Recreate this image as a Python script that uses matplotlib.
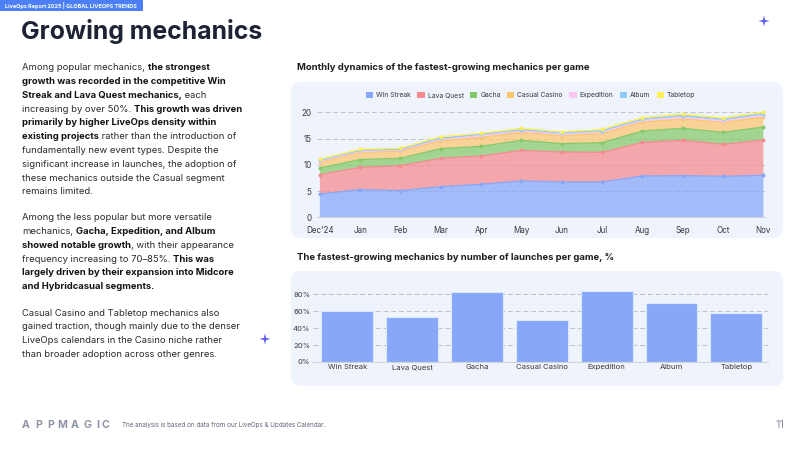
import matplotlib
matplotlib.use("Agg")
import matplotlib.pyplot as plt
from matplotlib.patches import FancyBboxPatch, Rectangle, Polygon
import numpy as np

# ---------------- data ----------------
months = ["Dec'24", "Jan", "Feb", "Mar", "Apr", "May", "Jun", "Jul", "Aug", "Sep", "Oct", "Nov"]
series_names = ["Win Streak", "Lava Quest", "Gacha", "Casual Casino", "Expedition", "Album", "Tabletop"]
win_streak = [4.44, 5.27, 5.08, 5.84, 6.29, 6.92, 6.73, 6.73, 7.87, 7.94, 7.81, 8.00]
lava_quest = [3.69, 4.25, 4.76, 5.40, 5.39, 5.84, 5.71, 5.65, 6.42, 6.73, 6.09, 6.73]
gacha = [1.27, 1.48, 1.40, 1.84, 1.84, 1.91, 1.59, 1.84, 2.15, 2.28, 2.29, 2.47]
casual_casino = [1.10, 1.38, 1.36, 1.52, 1.72, 1.52, 1.53, 1.78, 1.72, 1.78, 1.91, 1.90]
expedition = [0.20, 0.22, 0.20, 0.30, 0.36, 0.31, 0.31, 0.30, 0.32, 0.37, 0.30, 0.33]
album = [0.16, 0.16, 0.15, 0.20, 0.20, 0.20, 0.19, 0.20, 0.25, 0.27, 0.27, 0.32]
tabletop = [0.19, 0.19, 0.19, 0.27, 0.20, 0.25, 0.19, 0.26, 0.25, 0.31, 0.25, 0.31]

bar_categories = ["Win Streak", "Lava Quest", "Gacha", "Casual Casino", "Expedition", "Album", "Tabletop"]
bar_values = [60, 53, 83, 50, 84, 70, 58]
bar_ticks = [0, 20, 40, 60, 80]
bar_tick_labels = ["0%", "20%", "40%", "60%", "80%"]
area_ticks = [0, 5, 10, 15, 20]

line_colors = ["#86a7f8", "#f58a8f", "#86c96a", "#fcc66f", "#fbc8f4", "#8ecbfb", "#fdee5a"]

FONT = "Inter"
plt.rcParams['font.family'] = [FONT, 'DejaVu Sans']

W, H = 800, 450
fig = plt.figure(figsize=(8, 4.5), dpi=100)
fig.patch.set_facecolor("white")

bg = fig.add_axes([0, 0, 1, 1])
bg.set_xlim(0, W)
bg.set_ylim(H, 0)
bg.axis("off")
bg.set_zorder(0)

# banner
bg.add_patch(Rectangle((0, 0), 143, 11, color="#4c7ff6", lw=0))
bg.text(5, 5.6, "LiveOps Report 2025 | GLOBAL LIVEOPS TRENDS", color="white", fontsize=3.95,
        fontweight="bold", va="center", ha="left")

# title
bg.text(21, 31, "Growing mechanics", fontsize=17.9, fontweight="bold", color="#1e2235",
        va="center", ha="left")

# panels
panel_c = "#eff4fc"
bg.add_patch(FancyBboxPatch((291, 82), 492, 156, boxstyle="round,pad=0,rounding_size=10",
                            fc=panel_c, ec="none"))
bg.add_patch(FancyBboxPatch((291, 271), 492, 115, boxstyle="round,pad=0,rounding_size=10",
                            fc=panel_c, ec="none"))

bg.text(297, 68, "Monthly dynamics of the fastest-growing mechanics per game", fontsize=6.85,
        fontweight="bold", color="#1e1e1e", va="center", ha="left")
bg.text(297, 257, "The fastest-growing mechanics by number of launches per game, %", fontsize=6.8,
        fontweight="bold", color="#1e1e1e", va="center", ha="left")

# stars
def star(cx, cy, r, color):
    pts = []
    ri = r * 0.28
    for k in range(8):
        ang = np.pi / 2 + k * np.pi / 4
        rr = r if k % 2 == 0 else ri
        pts.append((cx + rr * np.cos(ang), cy - rr * np.sin(ang)))
    bg.add_patch(Polygon(pts, closed=True, fc=color, ec="none"))

star(764, 21, 5.5, "#5b5df2")
star(265, 339, 5.5, "#5b5df2")

# ---------------- body text with mixed weight ----------------
renderer = fig.canvas.get_renderer()
BODY_FS = 6.8
body_color = "#2b2b2b"
bold_color = "#141414"

def text_width(s, weight):
    t = bg.text(0, 0, s, fontsize=BODY_FS, fontweight=weight)
    w = t.get_window_extent(renderer).width
    t.remove()
    return w

space_w = {wt: text_width("x x", wt) - text_width("xx", wt) for wt in ("normal", "bold")}

def rich_line(x, y, runs):
    for s, b in runs:
        wt = "bold" if b else "normal"
        core = s.rstrip(" ")
        trailing = len(s) - len(core)
        t = bg.text(x, y, core, fontsize=BODY_FS, fontweight=wt,
                    color=bold_color if b else body_color, va="center", ha="left")
        x += t.get_window_extent(renderer).width + trailing * space_w[wt]

N, B = False, True
para1 = [
    [("Among popular mechanics, ", N), ("the strongest", B)],
    [("growth was recorded in the competitive Win", B)],
    [("Streak and Lava Quest mechanics,", B), (" each", N)],
    [("increasing by over 50%. ", N), ("This growth was driven", B)],
    [("primarily by higher LiveOps density within", B)],
    [("existing projects", B), (" rather than the introduction of", N)],
    [("fundamentally new event types. Despite the", N)],
    [("significant increase in launches, the adoption of", N)],
    [("these mechanics outside the Casual segment", N)],
    [("remains limited.", N)],
]
para2 = [
    [("Among the less popular but more versatile", N)],
    [("mechanics, ", N), ("Gacha, Expedition, and Album", B)],
    [("showed notable growth", B), (", with their appearance", N)],
    [("frequency increasing to 70\u201385%. ", N), ("This was", B)],
    [("largely driven by their expansion into Midcore", B)],
    [("and Hybridcasual segments.", B)],
]
para3 = [
    [("Casual Casino and Tabletop mechanics also", N)],
    [("gained traction, though mainly due to the denser", N)],
    [("LiveOps calendars in the Casino niche rather", N)],
    [("than broader adoption across other genres.", N)],
]
LS = 13.8
for para, y0 in ((para1, 67.7), (para2, 217.7), (para3, 313.0)):
    for i, runs in enumerate(para):
        rich_line(22, y0 + i * LS, runs)

# footer
logo = "APPMAGIC"
logo_x = [21.7, 35.7, 46.9, 57.7, 70.4, 83.0, 95.9, 102.0]
for ch, lx in zip(logo, logo_x):
    bg.text(lx, 424.5, ch, fontsize=7.6, fontweight="bold", color="#8d95a5", va="center", ha="left")
bg.text(121.5, 424.5, "The analysis is based on data from our LiveOps & Updates Calendar.",
        fontsize=4.5, color="#5e6678", va="center", ha="left")
bg.text(780, 425, "11", fontsize=8, color="#8d95a5", va="center", ha="center")

# ---------------- area chart ----------------
def fig_rect(x0, x1, ytop, ybot):
    return [x0 / W, 1 - ybot / H, (x1 - x0) / W, (ybot - ytop) / H]

ax1 = fig.add_axes(fig_rect(317, 765, 217.3 - 21 * 5.25, 217.3))
ax1.set_zorder(2)
ax1.patch.set_alpha(0)
x = np.arange(len(months))
stack = [win_streak, lava_quest, gacha, casual_casino, expedition, album, tabletop]
ax1.stackplot(x, *stack, colors=line_colors, alpha=0.72, lw=0)
cum = np.cumsum(np.array(stack), axis=0)
for i in range(len(stack)):
    ax1.plot(x, cum[i], color=line_colors[i], lw=0.9, marker="o", ms=1.8, clip_on=False, zorder=3)
ax1.set_xlim(-0.07, 11.04)
ax1.set_ylim(0, 21)
ax1.set_xticks(x)
ax1.set_xticklabels(months)
ax1.set_yticks(area_ticks)
ax1.tick_params(axis="both", length=0, labelsize=5.8, labelcolor="#3a3a3a")
ax1.tick_params(axis="x", pad=6)
ax1.tick_params(axis="y", pad=4)
for s in ("top", "right", "left"):
    ax1.spines[s].set_visible(False)
ax1.spines["bottom"].set_color("#cfd3da")
ax1.spines["bottom"].set_linewidth(0.8)
for v in area_ticks[1:]:
    ax1.axhline(v, color="#bfc3c9", lw=0.7, ls=(0, (5, 3)), zorder=0)

handles = [Rectangle((0, 0), 1, 1, fc=c, ec="none") for c in line_colors]
fig.legend(handles, series_names, loc="center", bbox_to_anchor=(530.5 / W, 1 - 95 / H), ncol=7,
           frameon=False, fontsize=4.9, handlelength=1.1, handleheight=1.1, handletextpad=0.45,
           columnspacing=0.9, labelcolor="#3a3a3a")

# ---------------- bar chart ----------------
unit = 16.9 / 20
ax2 = fig.add_axes(fig_rect(313, 768, 362 - 90 * unit, 362))
ax2.set_zorder(2)
ax2.patch.set_alpha(0)
bx = np.arange(len(bar_categories))
ax2.bar(bx, bar_values, width=0.8, color="#87a8f8", edgecolor="#dce6fd", lw=0.8, zorder=2)
ax2.set_xlim(-0.53, 6.49)
ax2.set_ylim(0, 90)
ax2.set_yticks(bar_ticks)
ax2.set_yticklabels(bar_tick_labels)
ax2.set_xticks(bx)
ax2.set_xticklabels(bar_categories)
ax2.tick_params(axis="both", length=0, labelsize=5.5, labelcolor="#3a3a3a")
ax2.tick_params(axis="x", pad=1.5)
ax2.tick_params(axis="y", pad=2)
for s in ("top", "right", "left"):
    ax2.spines[s].set_visible(False)
ax2.spines["bottom"].set_color("#cfd3da")
ax2.spines["bottom"].set_linewidth(0.8)
for v in bar_ticks[1:]:
    ax2.axhline(v, color="#bfc3c9", lw=0.7, ls=(0, (5, 3)), zorder=0)

fig.savefig("out.png", dpi=100, facecolor="white")
